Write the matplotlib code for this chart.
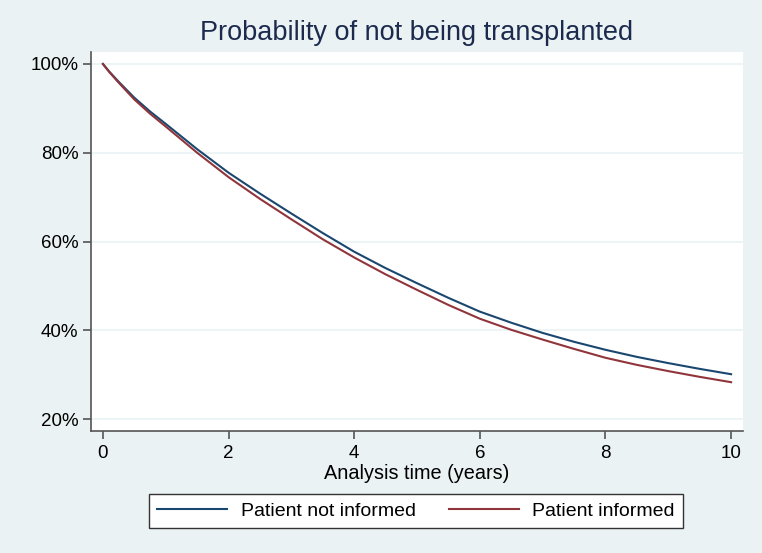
import matplotlib.pyplot as plt
import matplotlib as mpl
from matplotlib.ticker import FuncFormatter

# survival estimates (years, % not transplanted)
years = [0, 0.1, 0.25, 0.5, 0.75, 1, 1.5, 2, 2.5, 3, 3.5, 4, 4.5, 5, 5.5, 6, 6.5, 7, 7.5, 8, 8.5, 9, 9.5, 10]
not_informed = [100, 98.3, 96.0, 92.4, 89.3, 86.5, 80.8, 75.5, 70.8, 66.3, 61.9, 57.7, 54.0, 50.6, 47.3,
                44.2, 41.7, 39.4, 37.4, 35.6, 34.0, 32.6, 31.3, 30.1]
informed = [100, 98.2, 95.8, 92.0, 88.8, 85.9, 80.0, 74.5, 69.6, 65.0, 60.5, 56.4, 52.6, 49.1, 45.7,
            42.6, 40.1, 37.9, 35.8, 33.8, 32.2, 30.8, 29.5, 28.3]

x_ticks = [0, 2, 4, 6, 8, 10]
y_ticks = [20, 40, 60, 80, 100]

mpl.rcParams['font.family'] = 'Liberation Sans'
bg = '#EAF2F3'
axis_col = '#555555'

fig = plt.figure(figsize=(7.62, 5.53), dpi=100, facecolor=bg)
ax = fig.add_axes([91/762, 1-431/553, 652/762, 379/553])
ax.set_facecolor('white')

ax.plot(years, not_informed, color='#1A476F', lw=1.5, label='Patient not informed')
ax.plot(years, informed, color='#90353B', lw=1.5, label='Patient informed')

ax.set_xlim(-0.19, 10.19)
ax.set_ylim(17.3, 102.7)
ax.set_xticks(x_ticks)
ax.set_yticks(y_ticks)
ax.yaxis.set_major_formatter(FuncFormatter(lambda v, p: f'{v:.0f}%'))
ax.grid(axis='y', color=bg, lw=1.2)
ax.set_axisbelow(True)

for s in ['top', 'right']:
    ax.spines[s].set_visible(False)
for s in ['left', 'bottom']:
    ax.spines[s].set_color(axis_col)
    ax.spines[s].set_linewidth(1.2)
ax.tick_params(colors=axis_col, labelcolor='black', labelsize=13.5, length=6, width=1.2)
ax.tick_params(axis='x', pad=4)
ax.tick_params(axis='y', pad=3)

ax.set_xlabel('Analysis time (years)', fontsize=14.3, labelpad=1.5)
fig.suptitle('Probability of not being transplanted', fontsize=19.5, color='#1C2A4E',
             x=417/762, y=1-33/553, va='center')

leg = fig.legend(loc='center', bbox_to_anchor=(416/762, 1-511/553), ncol=2,
                 fontsize=14, frameon=True, fancybox=False, edgecolor='#333333',
                 framealpha=1, handlelength=3.6, handletextpad=0.7, columnspacing=1.7,
                 borderpad=0.4)
leg.get_frame().set_linewidth(1.0)

fig.savefig('out.png', dpi=100, facecolor=bg)
